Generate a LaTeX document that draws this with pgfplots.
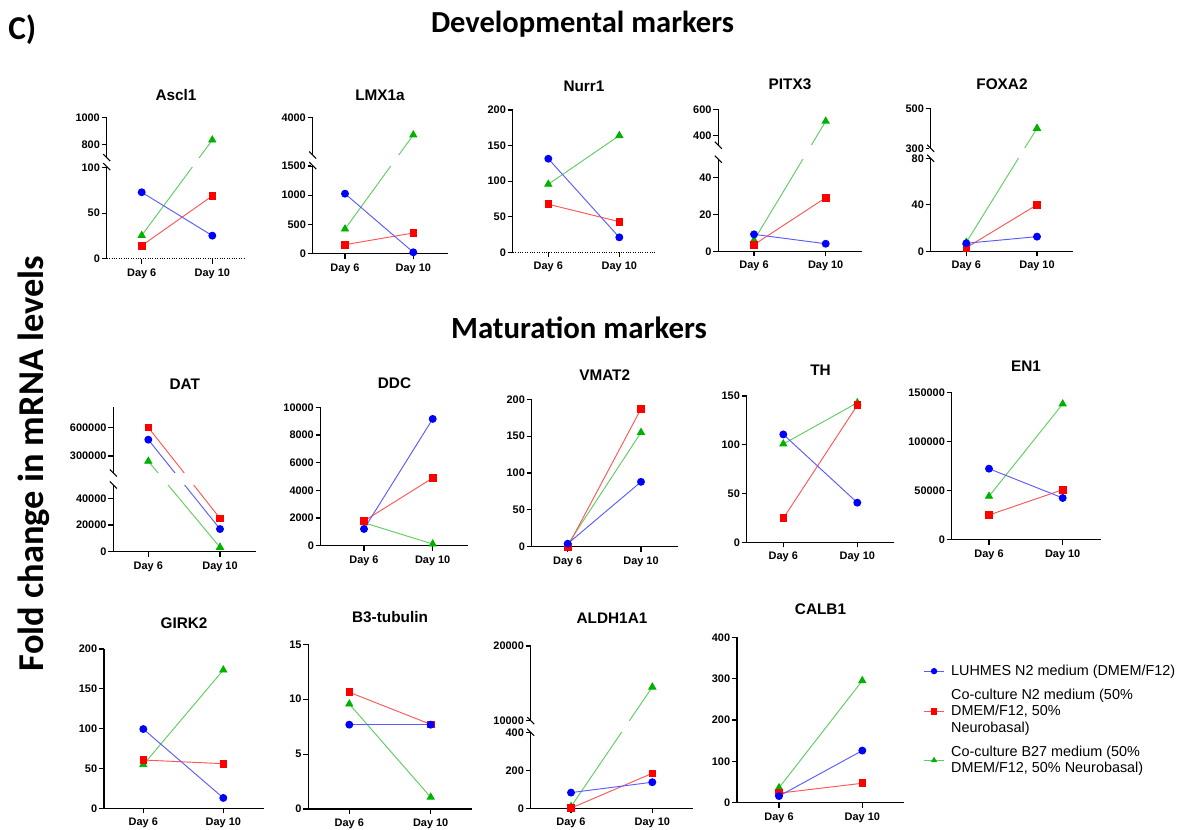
\documentclass[border=0pt]{standalone}
\usepackage{pgfplots}
\pgfplotsset{compat=1.18}
\usepackage{fontspec}
\setmainfont{Liberation Sans}
\newfontfamily\headfont{Carlito}

\definecolor{lineB}{RGB}{90,90,255}
\definecolor{markB}{RGB}{0,0,255}
\definecolor{lineR}{RGB}{255,85,85}
\definecolor{markR}{RGB}{255,0,0}
\definecolor{lineG}{RGB}{95,205,95}
\definecolor{markG}{RGB}{0,178,0}

% piecewise display mapping for broken y axes (display unit = px above baseline)
% #1 value, #2 k1 (px/unit lower), #3 L (lower top), #4 A (upper ref), #5 pA (px of A), #6 k2
\newcommand\brktrafo[6]{%
  \pgfmathfloatparsenumber{#1}\let\brkv\pgfmathresult
  \pgfmathfloatparsenumber{#3}\let\brkL\pgfmathresult
  \pgfmathfloatlessthan{\brkL}{\brkv}%
  \ifpgfmathfloatcomparison
    \pgfmathfloatparsenumber{#4}\let\brkA\pgfmathresult
    \pgfmathfloatsubtract{\brkv}{\brkA}\let\brkt\pgfmathresult
    \pgfmathfloatparsenumber{#6}\let\brkk\pgfmathresult
    \pgfmathfloatmultiply{\brkt}{\brkk}\let\brkt\pgfmathresult
    \pgfmathfloatparsenumber{#5}\let\brkp\pgfmathresult
    \pgfmathfloatadd{\brkt}{\brkp}%
  \else
    \pgfmathfloatparsenumber{#2}\let\brkk\pgfmathresult
    \pgfmathfloatmultiply{\brkv}{\brkk}%
  \fi
  \pgfmathfloattofixed{\pgfmathresult}%
}

\newcommand\panelbox[6]{% left, day6, day10, right, base, top  (image px)
  \pgfmathsetmacro\bw{(#4-#1)*0.75}%
  \pgfmathsetmacro\bh{(#5-#6)*0.75}%
  \pgfmathsetmacro\bx{#1*0.75}%
  \pgfmathsetmacro\by{(830-#5)*0.75}%
  \pgfmathsetmacro\bxmin{1-(#2-#1)/(#3-#2)}%
  \pgfmathsetmacro\bxmax{2+(#4-#3)/(#3-#2)}%
}
\newcommand\pxy[2]{({(#1)*0.75pt},{(830-(#2))*0.75pt})}
\newcommand\ttl[3]{\node[font=\bfseries\fontsize{11.5}{13}\selectfont, text depth=0pt, inner sep=0pt] at \pxy{#1}{#2} {#3};}
\newcommand\brkband[5]{% axis x, right, base, h1, h2
  \fill[white] \pxy{#1-1.5}{#3-(#4)} rectangle \pxy{#2+1}{#3-(#5)};
  \draw[line width=0.8pt] \pxy{#1-3.5}{#3-(#5)-3.5} -- \pxy{#1+3.5}{#3-(#5)+3.5};
  \draw[line width=0.8pt] \pxy{#1-3.5}{#3-(#4)-3.5} -- \pxy{#1+3.5}{#3-(#4)+3.5};
}

\pgfplotsset{
  brk/.style n args={5}{y coord trafo/.code={\brktrafo{##1}{#1}{#2}{#3}{#4}{#5}}},
  panel/.style={
    scale only axis, anchor=south west,
    axis lines=left, axis line style={-, line width=0.8pt, black},
    tick align=outside, major tick length=3.75pt,
    tick style={line width=0.8pt, black},
    xtick={1,2}, xticklabels={Day 6,Day 10},
    ymin=0, scaled y ticks=false,
    /pgf/number format/assume math mode=true,
    tick label style={font=\bfseries\fontsize{8.2}{9}\selectfont},
    yticklabel style={inner sep=1.2pt},
    clip=false, enlargelimits=false,
  },
  sG/.style={color=lineG, line width=0.7pt, mark=triangle*, mark size=3pt, mark options={fill=markG, draw=markG, solid}},
  sR/.style={color=lineR, line width=0.7pt, mark=square*, mark size=2.5pt, mark options={fill=markR, draw=markR, solid}},
  sB/.style={color=lineB, line width=0.7pt, mark=*, mark size=2.6pt, mark options={fill=markB, draw=markB, solid}},
}

\begin{document}
\begin{tikzpicture}
\useasboundingbox (0,0) rectangle (891.75pt,622.5pt);

\node[font=\headfont\bfseries\fontsize{22.9}{26}\selectfont, text depth=0pt] at \pxy{582.5}{22} {Developmental markers};
\node[font=\headfont\bfseries\fontsize{23.1}{26}\selectfont, text depth=0pt] at \pxy{579}{328} {Maturation markers};
\node[font=\headfont\bfseries\fontsize{27.3}{30}\selectfont, text depth=0pt, rotate=90] at \pxy{30.5}{463.5} {Fold change in mRNA levels};
\node[font=\headfont\bfseries\fontsize{25}{28}\selectfont, text depth=0pt, inner sep=0pt, anchor=west] at \pxy{8}{27} {C)};

% ---------- Ascl1
\panelbox{106.7}{141.7}{212.3}{245}{258.7}{117.7}
\begin{axis}[panel, width=\bw pt, height=\bh pt, at={(\bx pt,\by pt)}, xmin=\bxmin, xmax=\bxmax,
  brk={0.91}{100}{800}{114.4}{0.133}, ymax=1000,
  ytick={0,50,100,800,1000}, yticklabels={0,50,100,800,1000},
  x axis line style={densely dotted}]
\addplot[sG] coordinates {(1,25.5) (2,832)};
\addplot[sR] coordinates {(1,14.3) (2,69)};
\addplot[sB] coordinates {(1,73) (2,25.3)};
\end{axis}
\brkband{106.7}{245}{258.7}{92}{101}
\ttl{176}{95}{Ascl1}

% ---------- LMX1a
\panelbox{312.7}{345}{413.3}{448}{253.7}{117.7}
\begin{axis}[panel, width=\bw pt, height=\bh pt, at={(\bx pt,\by pt)}, xmin=\bxmin, xmax=\bxmax,
  brk={0.05847}{1500}{4000}{136}{0.0247}, ymax=4000,
  ytick={0,500,1000,1500,4000}, yticklabels={0,500,1000,1500,4000}]
\addplot[sG] coordinates {(1,422) (2,3300)};
\addplot[sR] coordinates {(1,154) (2,354)};
\addplot[sB] coordinates {(1,1026) (2,24)};
\end{axis}
\brkband{312.7}{448}{253.7}{88}{98.7}
\ttl{380}{95}{LMX1a}

% ---------- Nurr1
\panelbox{512.7}{548.3}{619.3}{656}{252.3}{110}
\begin{axis}[panel, width=\bw pt, height=\bh pt, at={(\bx pt,\by pt)}, xmin=\bxmin, xmax=\bxmax,
  ymax=200, ytick={0,50,100,150,200}, yticklabels={0,50,100,150,200},
  x axis line style={densely dotted}]
\addplot[sG] coordinates {(1,95.6) (2,164)};
\addplot[sR] coordinates {(1,67.5) (2,43)};
\addplot[sB] coordinates {(1,131.5) (2,21)};
\end{axis}
\ttl{584}{86}{Nurr1}

% ---------- PITX3
\panelbox{718.3}{754}{825.7}{861.7}{251.3}{109.3}
\begin{axis}[panel, width=\bw pt, height=\bh pt, at={(\bx pt,\by pt)}, xmin=\bxmin, xmax=\bxmax,
  brk={1.84}{50}{400}{116}{0.13}, ymax=600,
  ytick={0,20,40,400,600}, yticklabels={0,20,40,400,600}]
\addplot[sG] coordinates {(1,6) (2,508)};
\addplot[sR] coordinates {(1,3.6) (2,29.1)};
\addplot[sB] coordinates {(1,9.2) (2,4.1)};
\end{axis}
\brkband{718.3}{861.7}{251.3}{92}{106}
\ttl{790}{84}{PITX3}

% ---------- FOXA2
\panelbox{930.7}{966.3}{1037}{1073.3}{251.3}{108.3}
\begin{axis}[panel, width=\bw pt, height=\bh pt, at={(\bx pt,\by pt)}, xmin=\bxmin, xmax=\bxmax,
  brk={1.1625}{80}{300}{103}{0.2}, ymax=500,
  ytick={0,40,80,300,500}, yticklabels={0,40,80,300,500}]
\addplot[sG] coordinates {(1,7.7) (2,400)};
\addplot[sR] coordinates {(1,3.1) (2,40)};
\addplot[sB] coordinates {(1,6.9) (2,12.6)};
\end{axis}
\brkband{930.7}{1073.3}{251.3}{93}{103}
\ttl{1002}{84}{FOXA2}

% ---------- DAT
\panelbox{113.3}{148.3}{220}{256}{551.7}{407.3}
\begin{axis}[panel, width=\bw pt, height=\bh pt, at={(\bx pt,\by pt)}, xmin=\bxmin, xmax=\bxmax,
  brk={0.0013333}{50000}{300000}{95.7}{0.00009433}, ymax=816000,
  ytick={0,20000,40000,300000,600000}, yticklabels={0,20000,40000,300000,600000}]
\addplot[sG] coordinates {(1,244000) (2,3300)};
\addplot[sR] coordinates {(1,602000) (2,25000)};
\addplot[sB] coordinates {(1,472700) (2,17000)};
\end{axis}
\brkband{113.3}{256}{551.7}{66.7}{78.7}
\ttl{184.7}{384}{DAT}

% ---------- DDC
\panelbox{320.7}{364}{432.7}{468.3}{545.7}{407.3}
\begin{axis}[panel, width=\bw pt, height=\bh pt, at={(\bx pt,\by pt)}, xmin=\bxmin, xmax=\bxmax,
  ymax=10000, ytick={0,2000,4000,6000,8000,10000}, yticklabels={0,2000,4000,6000,8000,10000}]
\addplot[sG] coordinates {(1,1660) (2,120)};
\addplot[sR] coordinates {(1,1785) (2,4890)};
\addplot[sB] coordinates {(1,1207) (2,9160)};
\end{axis}
\ttl{394.5}{383.3}{DDC}

% ---------- VMAT2
\panelbox{531.7}{567.7}{641}{677.5}{546.7}{399.3}
\begin{axis}[panel, width=\bw pt, height=\bh pt, at={(\bx pt,\by pt)}, xmin=\bxmin, xmax=\bxmax,
  ymax=200, ytick={0,50,100,150,200}, yticklabels={0,50,100,150,200}]
\addplot[sG] coordinates {(1,3) (2,155)};
\addplot[sR] coordinates {(1,0) (2,187)};
\addplot[sB] coordinates {(1,4) (2,88)};
\end{axis}
\ttl{604.7}{375}{VMAT2}

% ---------- TH
\panelbox{746.7}{783.3}{857.3}{894.3}{542.3}{396}
\begin{axis}[panel, width=\bw pt, height=\bh pt, at={(\bx pt,\by pt)}, xmin=\bxmin, xmax=\bxmax,
  ymax=150, ytick={0,50,100,150}, yticklabels={0,50,100,150}]
\addplot[sG] coordinates {(1,100.8) (2,143)};
\addplot[sR] coordinates {(1,24.6) (2,140.5)};
\addplot[sB] coordinates {(1,110.6) (2,40.6)};
\end{axis}
\ttl{820.5}{370}{TH}

% ---------- EN1
\panelbox{951.7}{989}{1062.7}{1100.7}{539.7}{392.7}
\begin{axis}[panel, width=\bw pt, height=\bh pt, at={(\bx pt,\by pt)}, xmin=\bxmin, xmax=\bxmax,
  ymax=150000, ytick={0,50000,100000,150000}, yticklabels={0,50000,100000,150000}]
\addplot[sG] coordinates {(1,44300) (2,138500)};
\addplot[sR] coordinates {(1,25200) (2,51000)};
\addplot[sB] coordinates {(1,72450) (2,42550)};
\end{axis}
\ttl{1026}{366.7}{EN1}

% ---------- GIRK2
\panelbox{104}{143.3}{223.3}{264}{808.3}{649}
\begin{axis}[panel, width=\bw pt, height=\bh pt, at={(\bx pt,\by pt)}, xmin=\bxmin, xmax=\bxmax,
  ymax=200, ytick={0,50,100,150,200}, yticklabels={0,50,100,150,200}]
\addplot[sG] coordinates {(1,54.7) (2,173.6)};
\addplot[sR] coordinates {(1,60.6) (2,56)};
\addplot[sB] coordinates {(1,99.5) (2,13)};
\end{axis}
\ttl{184}{622.7}{GIRK2}

% ---------- B3-tubulin
\panelbox{308.3}{349.3}{430.7}{471.7}{809}{644.3}
\begin{axis}[panel, width=\bw pt, height=\bh pt, at={(\bx pt,\by pt)}, xmin=\bxmin, xmax=\bxmax,
  ymax=15, ytick={0,5,10,15}, yticklabels={0,5,10,15}]
\addplot[sG] coordinates {(1,9.56) (2,1.07)};
\addplot[sR] coordinates {(1,10.63) (2,7.71)};
\addplot[sB] coordinates {(1,7.68) (2,7.68)};
\end{axis}
\ttl{390}{616.7}{B3-tubulin}

% ---------- ALDH1A1
\panelbox{530.7}{571}{652.3}{693.3}{808.5}{646}
\begin{axis}[panel, width=\bw pt, height=\bh pt, at={(\bx pt,\by pt)}, xmin=\bxmin, xmax=\bxmax,
  brk={0.189}{400}{10000}{87.8}{0.00747}, ymax=20000,
  ytick={0,200,400,10000,20000}, yticklabels={0,200,400,10000,20000}]
\addplot[sG] coordinates {(1,10) (2,14500)};
\addplot[sR] coordinates {(1,2) (2,186)};
\addplot[sB] coordinates {(1,84) (2,139)};
\end{axis}
\brkband{530.7}{693.3}{808.5}{76.2}{87.8}
\ttl{612}{618.3}{ALDH1A1}

% ---------- CALB1 (with legend)
\panelbox{737}{779}{862.3}{904}{802.7}{637.3}
\begin{axis}[panel, width=\bw pt, height=\bh pt, at={(\bx pt,\by pt)}, xmin=\bxmin, xmax=\bxmax,
  ymax=400, ytick={0,100,200,300,400}, yticklabels={0,100,200,300,400},
  reverse legend, legend cell align=left,
  legend style={at={(1.1156,0.8507)}, anchor=north west, draw=none, fill=none,
    inner sep=0pt, row sep=4.5pt, column sep=3pt,
    font=\fontsize{10.8}{12.5}\selectfont, nodes={align=left}},
  legend image code/.code={\draw[mark repeat=2,mark phase=2,#1,mark size=2pt] plot coordinates {(0pt,0pt) (7.5pt,0pt) (15pt,0pt)};}]
\addplot[sG] coordinates {(1,36) (2,295)};
\addlegendentry{Co-culture B27 medium (50\%\\DMEM/F12, 50\% Neurobasal)}
\addplot[sR] coordinates {(1,23) (2,47)};
\addlegendentry{Co-culture N2 medium (50\%\\DMEM/F12, 50\%\\Neurobasal)}
\addplot[sB] coordinates {(1,16) (2,126)};
\addlegendentry{LUHMES N2 medium (DMEM/F12)}
\end{axis}
\ttl{820.5}{609.3}{CALB1}

\end{tikzpicture}
\end{document}
